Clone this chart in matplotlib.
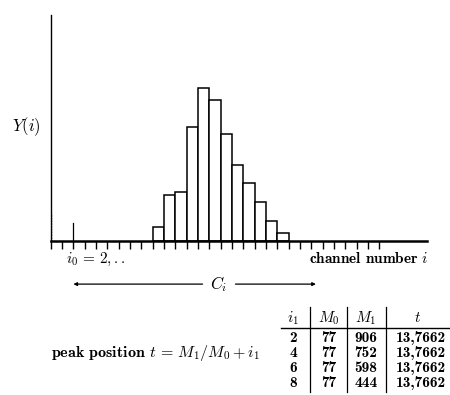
import matplotlib
matplotlib.use("Agg")
import matplotlib.pyplot as plt
from matplotlib.lines import Line2D

plt.rcParams['mathtext.fontset'] = 'cm'
plt.rcParams['font.family'] = ['cmb10', 'DejaVu Serif']
plt.rcParams['axes.unicode_minus'] = False

# histogram data: channel number and content Y(i)
channels = [9, 10, 11, 12, 13, 14, 15, 16, 17, 18, 19, 20]
counts = [1.3, 4.3, 4.6, 10.7, 14.3, 13.2, 10.0, 7.1, 5.4, 3.6, 1.8, 0.7]
tick_channels = list(range(0, 30))
i0 = 2

# table of moments
col_heads = ["$i_1$", "$M_0$", "$M_1$", "$t$"]
i1_vals = [2, 4, 6, 8]
m0_vals = [77, 77, 77, 77]
m1_vals = [906, 752, 598, 444]
t_vals = ["13,7662", "13,7662", "13,7662", "13,7662"]

W, H = 450, 395
fig = plt.figure(figsize=(W / 100, H / 100), dpi=100)
fig.patch.set_facecolor("white")

def fx(px):
    return px / W

def fy(py):
    return 1 - py / H

ax = fig.add_axes([fx(50.7), fy(240.5), fx(427) - fx(50.7), fy(15) - fy(240.5)])
ax.set_xlim(0, 33.2)
ax.set_ylim(0, 21.2)

ax.bar(channels, counts, width=1.0, align="edge", facecolor="white",
       edgecolor="black", linewidth=1.1, zorder=2)

# start marker at i0 and dotted mark at the origin
ax.plot([i0, i0], [0, 1.6], color="black", lw=0.9, zorder=3)
ax.plot([0, 0], [0, 2.6], color="black", lw=1.0, ls=(0, (1, 1)), zorder=3)

for s in ["top", "right"]:
    ax.spines[s].set_visible(False)
ax.spines["left"].set_linewidth(1.0)
ax.spines["bottom"].set_linewidth(1.8)
ax.set_xticks(tick_channels)
ax.set_xticklabels([])
ax.set_yticks([])
ax.tick_params(axis="x", direction="out", length=6, width=1.0, color="black")

ax.text(1.35, -1.75, "$i_0\\,=\\,2,..$", fontsize=11, ha="left", va="center")
ax.text(33.3, -1.7, "channel number $i$", fontsize=11, ha="right", va="center",
        clip_on=False)

# window arrow C_i
ya = -4.1
ax.annotate("", xy=(2.0, ya), xytext=(13.4, ya), annotation_clip=False,
            arrowprops=dict(arrowstyle="-|>", lw=0.9, color="black",
                            mutation_scale=5, shrinkA=0, shrinkB=0))
ax.annotate("", xy=(23.4, ya), xytext=(16.3, ya), annotation_clip=False,
            arrowprops=dict(arrowstyle="-|>", lw=0.9, color="black",
                            mutation_scale=5, shrinkA=0, shrinkB=0))
ax.text(14.8, ya, "$C_i$", fontsize=12, ha="center", va="center")

fig.text(fx(26), fy(127), "$Y(i)$", fontsize=12, ha="center", va="center")

# formula
fig.text(fx(51), fy(353), "peak position $t\\,=\\,M_1/M_0+i_1$", fontsize=11.5,
         ha="left", va="center")

# table
col_x = [293, 329, 366, 418]
row_y = [338, 353, 368, 383]
head_y = 318
fs = 11
for cx, h in zip(col_x, col_heads):
    fig.text(fx(cx), fy(head_y), h, fontsize=fs, ha="center", va="center")
for k in range(len(i1_vals)):
    y = fy(row_y[k])
    fig.text(fx(col_x[0]), y, str(i1_vals[k]), fontsize=fs, ha="center", va="center")
    fig.text(fx(col_x[1]), y, str(m0_vals[k]), fontsize=fs, ha="center", va="center")
    fig.text(fx(col_x[2]), y, str(m1_vals[k]), fontsize=fs, ha="center", va="center")
    fig.text(fx(446), y, t_vals[k], fontsize=fs, ha="right", va="center")

fig.add_artist(Line2D([fx(281), fx(449)], [fy(328), fy(328)], color="black", lw=1.0))
for sx in [310, 347, 386]:
    fig.add_artist(Line2D([fx(sx), fx(sx)], [fy(307), fy(392)], color="black", lw=0.9))

fig.savefig("out.png", dpi=100, facecolor="white")
